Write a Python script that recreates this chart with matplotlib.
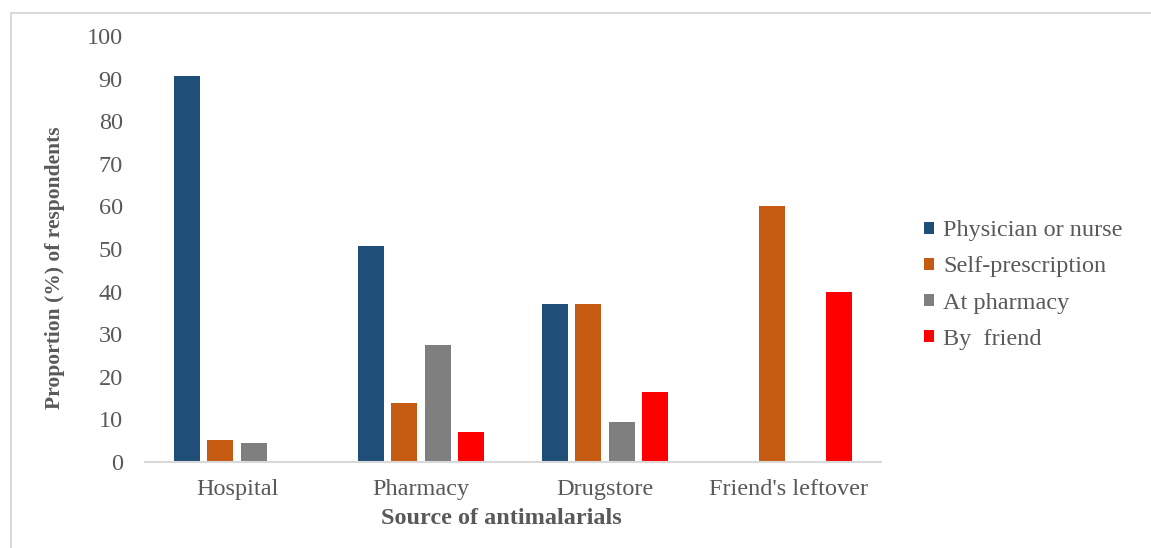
import numpy as np
import matplotlib
matplotlib.use("Agg")
import matplotlib.pyplot as plt
from matplotlib.lines import Line2D
from matplotlib.patches import Patch

# ── Data ─────────────────────────────────────────────────────────────────────
sources = ["Hospital", "Pharmacy", "Drugstore", "Friend's leftover"]
advisers = ["Physician or nurse", "Self-prescription", "At pharmacy", "By  friend"]

physician = [90.5, 50.8, 37.0, 0.0]
self_presc = [5.2, 13.9, 37.0, 60.0]
at_pharmacy = [4.4, 27.5, 9.4, 0.0]
by_friend = [0.0, 7.0, 16.4, 40.0]

COLORS = ["#1F4E79", "#C55A11", "#7F7F7F", "#FF0000"]
TEXT_GRAY = "#595959"
LINE_GRAY = "#D9D9D9"
FS = 17.5

plt.rcParams["font.family"] = ["Liberation Serif", "DejaVu Serif"]

fig = plt.figure(figsize=(11.51, 5.48), dpi=100)
ax = fig.add_axes([145 / 1151, 1 - 462 / 548, 736 / 1151, 426 / 548])

x = np.arange(len(sources))
width = 0.141
pitch = 0.181
series = [physician, self_presc, at_pharmacy, by_friend]
for i, (vals, color) in enumerate(zip(series, COLORS)):
    ax.bar(x + (i - 1.5) * pitch, vals, width=width, color=color, zorder=2)

ax.set_xlim(-0.5, len(sources) - 0.5)
ax.set_ylim(0, 100)
ax.set_yticks(range(0, 101, 10))
ax.set_xticks(x)
ax.set_xticklabels(sources)
ax.tick_params(axis="both", length=0, labelsize=FS, labelcolor=TEXT_GRAY)
ax.tick_params(axis="x", pad=12)
ax.tick_params(axis="y", pad=16)

for side in ["left", "right", "top"]:
    ax.spines[side].set_visible(False)
ax.spines["bottom"].set_color(LINE_GRAY)
ax.spines["bottom"].set_linewidth(1.5)

fig.text(55 / 1151, 1 - 268 / 548, "Proportion (%) of respondents",
         rotation=90, ha="center", va="center", fontsize=15.5,
         fontweight="bold", color=TEXT_GRAY)
fig.text(501 / 1151, 1 - 518 / 548, "Source of antimalarials",
         ha="center", va="center", fontsize=FS, fontweight="bold",
         color=TEXT_GRAY)

handles = [Patch(facecolor=c, edgecolor="none") for c in COLORS]
leg = fig.legend(handles, advisers, loc="center left",
                 bbox_to_anchor=(924 / 1151, 1 - 285 / 548),
                 frameon=False, fontsize=FS, handlelength=0.4,
                 handleheight=0.4, handletextpad=0.4, labelspacing=0.62,
                 borderpad=0, borderaxespad=0)
for t in leg.get_texts():
    t.set_color(TEXT_GRAY)

# light chart-area border (left and top edges)
fig.add_artist(Line2D([10.5 / 1151, 10.5 / 1151], [0, 1 - 12.5 / 548],
                      color=LINE_GRAY, linewidth=1.5))
fig.add_artist(Line2D([10.5 / 1151, 1], [1 - 12.5 / 548, 1 - 12.5 / 548],
                      color=LINE_GRAY, linewidth=1.5))

fig.savefig("out.png", dpi=100)
